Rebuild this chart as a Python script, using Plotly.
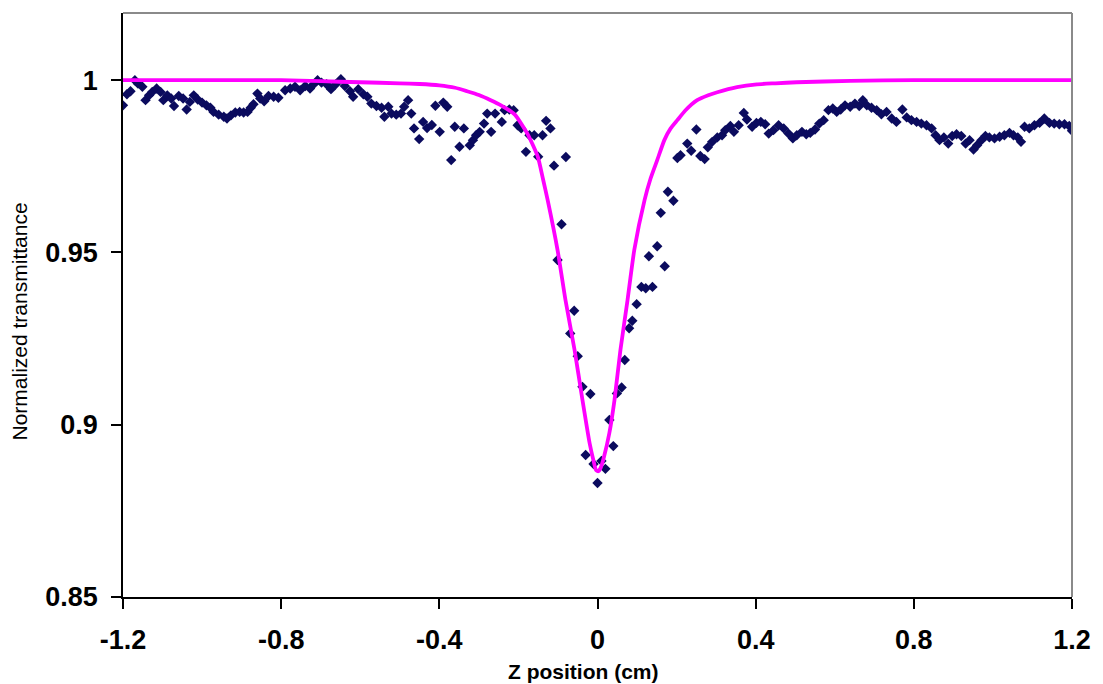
import plotly.graph_objects as go

# Measured data (Z position in cm, normalized transmittance)
z_data = [
    -1.200, -1.190, -1.181, -1.170, -1.162, -1.151, -1.143, -1.134, -1.126, -1.115,
    -1.105, -1.098, -1.088, -1.078, -1.071, -1.059, -1.048, -1.039, -1.031, -1.021,
    -1.011, -1.000, -0.989, -0.979, -0.971, -0.958, -0.945, -0.937, -0.927, -0.916,
    -0.905, -0.895, -0.885, -0.877, -0.870, -0.860, -0.853, -0.843, -0.832, -0.819,
    -0.807, -0.790, -0.777, -0.765, -0.752, -0.739, -0.727, -0.718, -0.708, -0.698,
    -0.685, -0.674, -0.662, -0.649, -0.639, -0.626, -0.618, -0.605, -0.592, -0.582,
    -0.572, -0.559, -0.546, -0.539, -0.529, -0.521, -0.509, -0.497, -0.489, -0.479,
    -0.471, -0.464, -0.451, -0.441, -0.431, -0.419, -0.410, -0.399, -0.390, -0.380,
    -0.370, -0.361, -0.349, -0.338, -0.323, -0.315, -0.307, -0.298, -0.287, -0.279,
    -0.269, -0.259, -0.242, -0.235, -0.223, -0.212, -0.202, -0.193, -0.181, -0.172,
    -0.160, -0.150, -0.139, -0.130, -0.119, -0.110, -0.080, -0.091, -0.101, -0.059,
    -0.069, -0.050, -0.038, -0.018, -0.030, -0.010, 0.010, 0.020, 0.000, 0.030,
    0.040, 0.049, 0.061, 0.069, 0.080, 0.088, 0.099, 0.111, 0.122, 0.139,
    0.130, 0.151, 0.170, 0.160, 0.178, 0.192, 0.202, 0.210, 0.227, 0.237,
    0.250, 0.260, 0.271, 0.279, 0.290, 0.303, 0.315, 0.323, 0.336, 0.345,
    0.357, 0.370, 0.378, 0.391, 0.402, 0.413, 0.424, 0.433, 0.445, 0.458,
    0.471, 0.483, 0.494, 0.504, 0.517, 0.528, 0.538, 0.550, 0.561, 0.572,
    0.584, 0.595, 0.605, 0.615, 0.626, 0.639, 0.651, 0.662, 0.671, 0.681,
    0.693, 0.706, 0.718, 0.731, 0.744, 0.756, 0.771, 0.782, 0.794, 0.807,
    0.819, 0.832, 0.845, 0.855, 0.865, 0.876, 0.887, 0.897, 0.908, 0.920,
    0.931, 0.941, 0.951, 0.960, 0.971, 0.981, 0.991, 1.004, 1.017, 1.029,
    1.042, 1.052, 1.063, 1.071, 1.080, 1.092, 1.105, 1.118, 1.130, 1.143,
    1.155, 1.168, 1.181, 1.193, 1.200,
]
t_data = [
    0.9927, 0.9959, 0.9968, 1.0000, 0.9990, 0.9981, 0.9942, 0.9956, 0.9966, 0.9976,
    0.9966, 0.9942, 0.9956, 0.9947, 0.9925, 0.9954, 0.9947, 0.9915, 0.9937, 0.9956,
    0.9944, 0.9935, 0.9927, 0.9920, 0.9908, 0.9900, 0.9894, 0.9889, 0.9898, 0.9906,
    0.9908, 0.9906, 0.9908, 0.9920, 0.9930, 0.9961, 0.9947, 0.9939, 0.9954, 0.9952,
    0.9949, 0.9971, 0.9976, 0.9981, 0.9971, 0.9983, 0.9976, 0.9988, 1.0000, 0.9993,
    0.9988, 0.9974, 0.9988, 1.0003, 0.9983, 0.9968, 0.9952, 0.9974, 0.9959, 0.9952,
    0.9932, 0.9925, 0.9920, 0.9894, 0.9923, 0.9903, 0.9900, 0.9903, 0.9923, 0.9942,
    0.9903, 0.9860, 0.9829, 0.9879, 0.9861, 0.9870, 0.9926, 0.9850, 0.9935, 0.9923,
    0.9768, 0.9865, 0.9807, 0.9860, 0.9811, 0.9826, 0.9840, 0.9850, 0.9874, 0.9903,
    0.9850, 0.9903, 0.9879, 0.9913, 0.9915, 0.9913, 0.9869, 0.9860, 0.9792, 0.9840,
    0.9840, 0.9778, 0.9840, 0.9882, 0.9860, 0.9752, 0.9777, 0.9582, 0.9478, 0.9331,
    0.9265, 0.9199, 0.9110, 0.9089, 0.8912, 0.8886, 0.8895, 0.8872, 0.8831, 0.9014,
    0.8938, 0.9091, 0.9108, 0.9188, 0.9280, 0.9302, 0.9350, 0.9400, 0.9396, 0.9400,
    0.9489, 0.9518, 0.9460, 0.9615, 0.9676, 0.9650, 0.9774, 0.9782, 0.9816, 0.9795,
    0.9857, 0.9780, 0.9771, 0.9805, 0.9821, 0.9834, 0.9840, 0.9855, 0.9867, 0.9850,
    0.9869, 0.9905, 0.9886, 0.9865, 0.9876, 0.9879, 0.9872, 0.9845, 0.9855, 0.9869,
    0.9860, 0.9845, 0.9831, 0.9840, 0.9850, 0.9843, 0.9847, 0.9857, 0.9874, 0.9884,
    0.9913, 0.9918, 0.9908, 0.9915, 0.9927, 0.9923, 0.9932, 0.9925, 0.9942, 0.9927,
    0.9920, 0.9913, 0.9901, 0.9908, 0.9889, 0.9879, 0.9915, 0.9892, 0.9884, 0.9879,
    0.9874, 0.9869, 0.9860, 0.9840, 0.9826, 0.9834, 0.9816, 0.9838, 0.9843, 0.9838,
    0.9816, 0.9826, 0.9799, 0.9811, 0.9826, 0.9838, 0.9834, 0.9831, 0.9836, 0.9840,
    0.9847, 0.9840, 0.9834, 0.9821, 0.9865, 0.9860, 0.9869, 0.9876, 0.9889, 0.9876,
    0.9874, 0.9872, 0.9872, 0.9867, 0.9853,
]

# Theoretical fit curve
z_fit = [
    -1.200, -0.800, -0.700, -0.600, -0.500, -0.450, -0.400, -0.360, -0.330, -0.300,
    -0.270, -0.244, -0.209, -0.176, -0.151, -0.138, -0.126, -0.101, -0.081, -0.058,
    -0.038, -0.020, -0.010, -0.004, 0.002, 0.008, 0.016, 0.030, 0.043, 0.058,
    0.076, 0.093, 0.119, 0.134, 0.151, 0.169, 0.185, 0.202, 0.222, 0.252,
    0.280, 0.303, 0.353, 0.403, 0.450, 0.504, 0.640, 0.800, 1.200,
]
t_fit = [
    1.0000, 1.0000, 0.9997, 0.9994, 0.9991, 0.9989, 0.9985, 0.9978, 0.9968, 0.9957,
    0.9942, 0.9927, 0.9900, 0.9842, 0.9778, 0.9714, 0.9652, 0.9507, 0.9362, 0.9217,
    0.9072, 0.8947, 0.8895, 0.8869, 0.8865, 0.8875, 0.8905, 0.8976, 0.9072, 0.9217,
    0.9362, 0.9507, 0.9652, 0.9714, 0.9768, 0.9826, 0.9860, 0.9884, 0.9912, 0.9942,
    0.9956, 0.9965, 0.9980, 0.9988, 0.9991, 0.9994, 0.9998, 1.0000, 1.0000,
]

x_ticks = [-1.2, -0.8, -0.4, 0, 0.4, 0.8, 1.2]
x_tick_text = ["-1.2", "-0.8", "-0.4", "0", "0.4", "0.8", "1.2"]
y_ticks = [0.85, 0.9, 0.95, 1.0]
y_tick_text = ["0.85", "0.9", "0.95", "1"]

FONT = "Liberation Sans, Arial, sans-serif"

fig = go.Figure()
fig.add_trace(go.Scatter(
    x=z_data, y=t_data, mode="markers",
    marker=dict(symbol="diamond", size=8, color="#0b0b5e", line=dict(width=0)),
    showlegend=False,
))
fig.add_trace(go.Scatter(
    x=z_fit, y=t_fit, mode="lines",
    line=dict(color="#ff00ff", width=3.8, shape="spline", smoothing=0.5),
    showlegend=False,
))

tick_font = dict(family=FONT, size=27, color="black", weight="bold")

fig.update_layout(
    width=1103, height=684,
    margin=dict(l=123, r=27, t=13, b=87),
    paper_bgcolor="white", plot_bgcolor="white",
    xaxis=dict(
        range=[-1.2, 1.2], tickvals=x_ticks, ticktext=x_tick_text,
        showgrid=False, zeroline=False, showline=True, linecolor="black", linewidth=1.5,
        ticks="outside", ticklen=10, tickwidth=1.5, tickcolor="black",
        tickfont=tick_font, ticklabelstandoff=8,
    ),
    yaxis=dict(
        range=[0.85, 1.0195], tickvals=y_ticks, ticktext=y_tick_text,
        showgrid=False, zeroline=False, showline=True, linecolor="black", linewidth=1.5,
        ticks="outside", ticklen=10, tickwidth=1.5, tickcolor="black",
        tickfont=tick_font, ticklabelstandoff=8,
    ),
    annotations=[
        dict(text="Z position (cm)", xref="paper", yref="paper", x=0.485, y=-0.127,
             xanchor="center", yanchor="middle", showarrow=False,
             font=dict(family=FONT, size=21, color="black", weight="bold")),
        dict(text="Normalized transmittance", xref="paper", yref="paper", x=-0.109, y=0.471,
             xanchor="center", yanchor="middle", showarrow=False, textangle=-90,
             font=dict(family=FONT, size=21, color="black")),
    ],
    shapes=[
        dict(type="line", xref="paper", yref="paper", x0=0, x1=1, y0=1, y1=1,
             line=dict(color="#8a8a8a", width=2)),
        dict(type="line", xref="paper", yref="paper", x0=1, x1=1, y0=0, y1=1,
             line=dict(color="#8a8a8a", width=2)),
    ],
)

fig.write_html("out.html")
